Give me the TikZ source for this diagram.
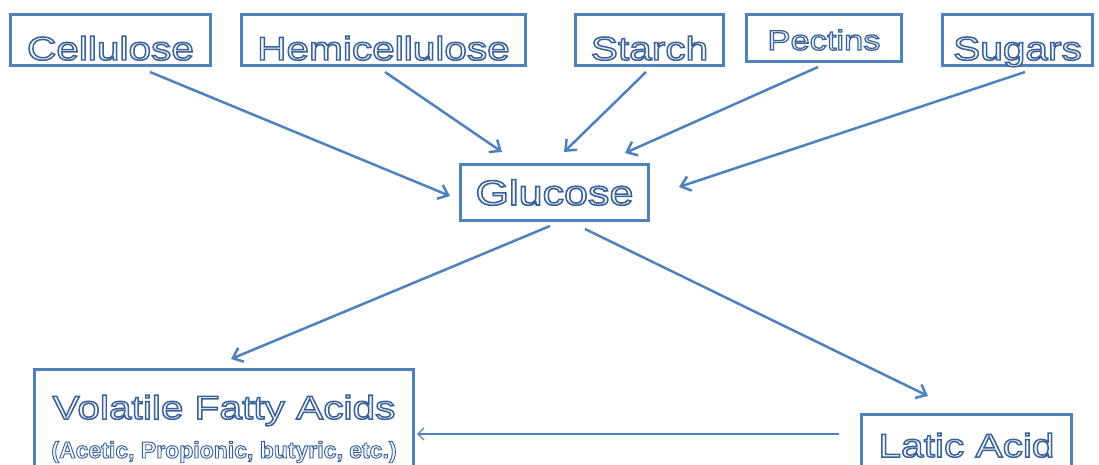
\documentclass[tikz,border=0pt]{standalone}
\usepackage{fontspec}
\usepackage{tikz}
\usetikzlibrary{arrows.meta}

\newfontfamily\boxfont[FakeStretch=1.23, FakeBold=4.5]{Liberation Sans}
\newfontfamily\notefont[FakeBold=4]{Liberation Sans Bold}
\definecolor{boxblue}{RGB}{79,129,189}
% light face, dark blue rim
\newcommand{\outlined}[1]{\special{pdf:bcolor [0.95 0.962 0.98] [0.22 0.38 0.6]}#1\special{pdf:ecolor}}

\begin{document}
\begin{tikzpicture}[x=1pt, y=-1pt,
		source/.style={rectangle, draw=boxblue, line width=3pt, inner sep=0pt, text height=45.5pt, text depth=5.5pt, font=\boxfont\fontsize{33}{38}\selectfont},
		product/.style={rectangle, draw=boxblue, line width=3pt, inner sep=0pt, align=center, font=\boxfont\fontsize{33}{38}\selectfont},
		arrow/.style={-{Straight Barb[length=9pt, width=15pt]}, draw=boxblue, line width=2.5pt},
		thinarrow/.style={-{Straight Barb[length=6pt, width=12pt]}, draw=boxblue, line width=1.4pt}
	]
		\clip (0,0) rectangle (1099,465);
		\fill[white] (0,0) rectangle (1099,465);
		
		% Sources
		\node[source, minimum width=200pt] (cell) at (110.5,40) {\outlined{Cellulose}};
		\node[source, minimum width=284pt] (hemi) at (383.5,40) {\outlined{Hemicellulose}};
		\node[source, minimum width=148pt] (starch) at (649.5,40) {\outlined{Starch}};
		\node[source, minimum width=155pt, text height=35.5pt, text depth=11.5pt, font=\boxfont\fontsize{28}{32}\selectfont] (pect) at (824,38) {\outlined{Pectins}};
		\node[source, minimum width=150pt] (sugars) at (1017.5,40) {\outlined{Sugars}};
		
		% Glucose
		\node[source, minimum width=188pt, text height=40.5pt, text depth=15.5pt, font=\boxfont\fontsize{35}{40}\selectfont] (glu) at (554.5,192.5) {\outlined{Glucose}};
		
		% Products
		\node[product, minimum width=379pt, text height=88.5pt, text depth=32pt] (vfa) at (224,429.75) {\outlined{Volatile Fatty Acids}\\[1pt]
			{\notefont\fontsize{23}{27}\selectfont\outlined{(Acetic, Propionic, butyric, etc.)}}};
		\node[product, minimum width=210pt, text height=42.5pt, text depth=35pt] (latic) at (966.5,453.25) {\outlined{Latic Acid}};
		
		% Arrows
		\draw[arrow] ([shift={(39.5,5)}]cell.south) -- ([shift={(-9,3.5)}]glu.west);
		\draw[arrow] ([shift={(1.5,5)}]hemi.south) -- ([shift={(-52.5,-11)}]glu.north);
		\draw[arrow] ([shift={(-3.5,5)}]starch.south) -- ([shift={(9.5,-11)}]glu.north);
		\draw[arrow] ([shift={(-6,4)}]pect.south) -- ([shift={(70.5,-10)}]glu.north);
		\draw[arrow] ([shift={(7.5,5)}]sugars.south) -- ([shift={(29,-5.5)}]glu.east);
		\draw[arrow] ([shift={(-4.5,4)}]glu.south) -- ([shift={(7,-9)}]vfa.north);
		\draw[arrow] ([shift={(30.5,7)}]glu.south) -- ([shift={(-38.5,-17)}]latic.north);
		\draw[thinarrow] ([shift={(-21,-19.25)}]latic.west) -- ([shift={(2,4.25)}]vfa.east);
	\end{tikzpicture}
\end{document}
